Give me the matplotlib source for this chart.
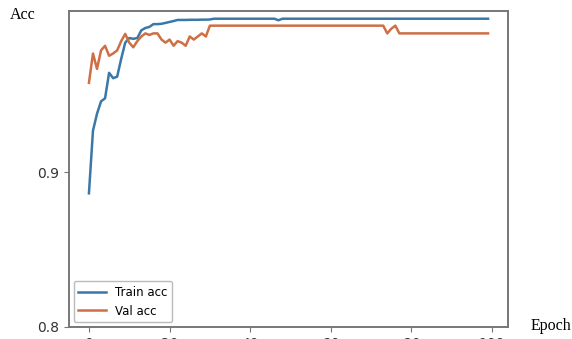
import numpy as np
import matplotlib.pyplot as plt

# accuracy per epoch
epochs = list(range(100))

train_acc = [
    0.8865, 0.927, 0.938, 0.946, 0.948, 0.9645, 0.961, 0.962, 0.9735, 0.984,
    0.987, 0.9865, 0.987, 0.992, 0.9935, 0.9942, 0.996, 0.996, 0.9962, 0.9968,
    0.9974, 0.998, 0.9987, 0.9987, 0.9987, 0.9988, 0.9988, 0.9988, 0.9989, 0.9989,
    0.9990, 0.9995, 0.9995, 0.9995, 0.9995, 0.9995, 0.9995, 0.9995, 0.9995, 0.9995,
    0.9995, 0.9995, 0.9995, 0.9995, 0.9995, 0.9995, 0.9995, 0.9985, 0.9995, 0.9995,
    0.9995, 0.9995, 0.9995, 0.9995, 0.9995, 0.9995, 0.9995, 0.9995, 0.9995, 0.9995,
    0.9995, 0.9995, 0.9995, 0.9995, 0.9995, 0.9995, 0.9995, 0.9995, 0.9995, 0.9995,
    0.9995, 0.9995, 0.9995, 0.9995, 0.9995, 0.9995, 0.9995, 0.9995, 0.9995, 0.9995,
    0.9995, 0.9995, 0.9995, 0.9995, 0.9995, 0.9995, 0.9995, 0.9995, 0.9995, 0.9995,
    0.9995, 0.9995, 0.9995, 0.9995, 0.9995, 0.9995, 0.9995, 0.9995, 0.9995, 0.9995,
]

val_acc = [
    0.958, 0.977, 0.967, 0.979, 0.982, 0.9755, 0.977, 0.979, 0.985, 0.9897,
    0.984, 0.981, 0.985, 0.988, 0.990, 0.989, 0.990, 0.990, 0.986, 0.984,
    0.986, 0.982, 0.985, 0.984, 0.982, 0.988, 0.986, 0.988, 0.990, 0.988,
    0.995, 0.995, 0.995, 0.995, 0.995, 0.995, 0.995, 0.995, 0.995, 0.995,
    0.995, 0.995, 0.995, 0.995, 0.995, 0.995, 0.995, 0.995, 0.995, 0.995,
    0.995, 0.995, 0.995, 0.995, 0.995, 0.995, 0.995, 0.995, 0.995, 0.995,
    0.995, 0.995, 0.995, 0.995, 0.995, 0.995, 0.995, 0.995, 0.995, 0.995,
    0.995, 0.995, 0.995, 0.995, 0.990, 0.993, 0.995, 0.990, 0.990, 0.990,
    0.990, 0.990, 0.990, 0.990, 0.990, 0.990, 0.990, 0.990, 0.990, 0.990,
    0.990, 0.990, 0.990, 0.990, 0.990, 0.990, 0.990, 0.990, 0.990, 0.990,
]

x_ticks = [0, 20, 40, 60, 80, 100]
y_ticks = [0.8, 0.9]

fig = plt.figure(figsize=(5.72, 3.39), dpi=100)
ax = fig.add_axes([0.1206, 0.0354, 0.7675, 0.9322])

ax.plot(epochs, train_acc, color='#3a78a8', lw=1.8, label='Train acc')
ax.plot(epochs, val_acc, color='#cf6f45', lw=1.8, label='Val acc')

ax.set_ylim(0.8, 1.0045)
ax.set_xticks(x_ticks)
ax.set_yticks(y_ticks)
ax.tick_params(colors='#777777', labelcolor='#333333', labelsize=10)
for s in ax.spines.values():
    s.set_color('#777777')
    s.set_linewidth(1.4)

leg = ax.legend(loc='lower left', fontsize=8.5, handlelength=2.3,
                borderaxespad=0.4)
leg.get_frame().set_edgecolor('#aaaaaa')

fig.text(10 / 572, 1 - 15 / 339, 'Acc', family='Liberation Serif',
         fontsize=11.5, va='center', ha='left')
fig.text(531 / 572, 1 - 326 / 339, 'Epoch', family='Liberation Serif',
         fontsize=11.5, va='center', ha='left')

fig.savefig('out.png', dpi=100)
plt.close(fig)
